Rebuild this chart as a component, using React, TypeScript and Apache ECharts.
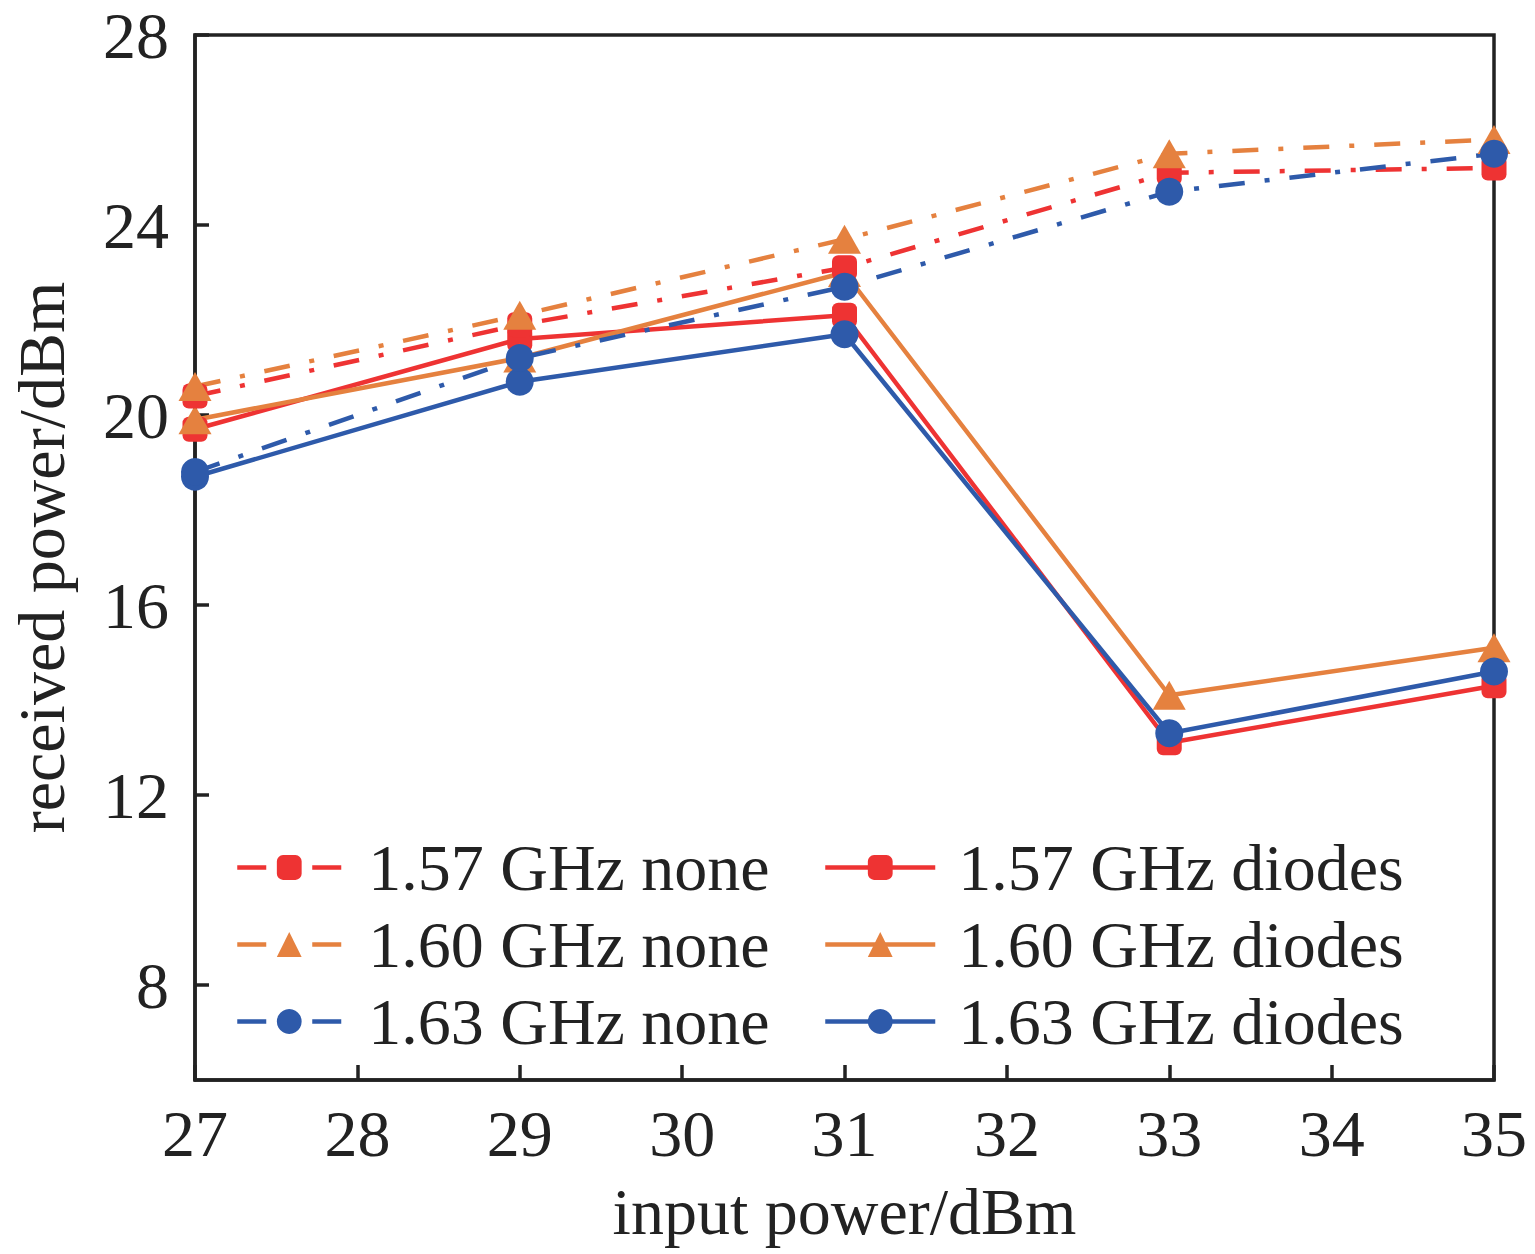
import React, { useEffect, useRef } from "react";
import * as echarts from "echarts";

const inputPower = [27, 29, 31, 33, 35];
const none157 = [20.4, 21.9, 23.1, 25.1, 25.2];
const none160 = [20.6, 22.1, 23.7, 25.5, 25.8];
const none163 = [18.8, 21.2, 22.7, 24.7, 25.5];
const diodes157 = [19.7, 21.6, 22.1, 13.1, 14.3];
const diodes160 = [19.9, 21.2, 23.0, 14.1, 15.1];
const diodes163 = [18.7, 20.7, 21.7, 13.3, 14.6];
const yTickValues = [8, 12, 16, 20, 24, 28];
const seriesNames = [
  "1.57 GHz none",
  "1.60 GHz none",
  "1.63 GHz none",
  "1.57 GHz diodes",
  "1.60 GHz diodes",
  "1.63 GHz diodes",
];

const RED = "#EE3333";
const ORANGE = "#E5813F";
const BLUE = "#2E5AAA";
const FONT = "'Liberation Serif', 'Times New Roman', serif";
const INK = "#222222";

function pairs(ys: number[]) {
  return inputPower.map((x, i) => [x, ys[i]]);
}

export default function App() {
  const ref = useRef<HTMLDivElement>(null);
  useEffect(() => {
    document.body.style.margin = "0";
    const chart = echarts.init(ref.current!, null, { renderer: "svg" });
    const dashDot = [26, 20, 5, 20];
    const symbolFor = (i: number) =>
      i % 3 === 0 ? "roundRect" : i % 3 === 1 ? "triangle" : "circle";
    const sizeFor = (i: number) =>
      i % 3 === 0 ? 25 : i % 3 === 1 ? [33, 29] : 28;
    const colorFor = (i: number) => [RED, ORANGE, BLUE][i % 3];
    const values = [none157, none160, none163, diodes157, diodes160, diodes163];
    const series = values.map((ys, i) => ({
      name: seriesNames[i],
      type: "line",
      data: pairs(ys),
      symbol: symbolFor(i),
      symbolSize: sizeFor(i),
      itemStyle: { color: colorFor(i) },
      lineStyle: {
        color: colorFor(i),
        width: 4.5,
        type: i < 3 ? dashDot : "solid",
      },
      z: i < 3 ? 3 : 2,
    }));
    const legendBase = {
      orient: "vertical",
      itemWidth: 104,
      itemHeight: 31,
      itemGap: 0,
      top: 829,
      padding: 0,
    };
    const textStyle = (pad: number) => ({
      fontFamily: FONT,
      fontSize: 66,
      color: INK,
      lineHeight: 77,
      padding: [0, 0, 0, pad],
    });
    chart.setOption({
      animation: false,
      backgroundColor: "#ffffff",
      grid: {
        left: 195,
        right: 41,
        top: 35,
        bottom: 174,
        show: true,
        borderColor: INK,
        borderWidth: 3.5,
      },
      legend: [
        {
          ...legendBase,
          left: 235,
          textStyle: textStyle(22),
          data: seriesNames.slice(0, 3).map((n) => ({
            name: n,
            lineStyle: { type: [29, 46], width: 4.5 },
          })),
        },
        {
          ...legendBase,
          left: 823,
          itemWidth: 110,
          textStyle: textStyle(18),
          data: seriesNames.slice(3).map((n) => ({
            name: n,
            lineStyle: { width: 4.5 },
          })),
        },
      ],
      xAxis: {
        type: "value",
        min: 27,
        max: 35,
        interval: 1,
        name: "input power/dBm",
        nameLocation: "middle",
        nameGap: 98,
        nameTextStyle: { fontFamily: FONT, fontSize: 66, color: INK },
        axisLine: { show: true, lineStyle: { color: INK, width: 3.5 } },
        axisTick: { show: true, inside: true, length: 15, lineStyle: { color: INK, width: 3.5 } },
        axisLabel: { fontFamily: FONT, fontSize: 66, color: INK, margin: 20 },
        splitLine: { show: false },
      },
      yAxis: {
        type: "value",
        min: 6,
        max: 28,
        name: "received power/dBm",
        nameLocation: "middle",
        nameGap: 121,
        nameTextStyle: { fontFamily: FONT, fontSize: 66, color: INK },
        axisLine: { show: true, lineStyle: { color: INK, width: 3.5 } },
        axisTick: {
          show: true,
          inside: true,
          length: 14,
          customValues: yTickValues,
          lineStyle: { color: INK, width: 3.5 },
        },
        axisLabel: {
          fontFamily: FONT,
          fontSize: 66,
          color: INK,
          margin: 26,
          customValues: yTickValues,
        },
        splitLine: { show: false },
      },
      series,
    });
    return () => chart.dispose();
  }, []);
  return <div ref={ref} style={{ width: 1535, height: 1254 }} />;
}
